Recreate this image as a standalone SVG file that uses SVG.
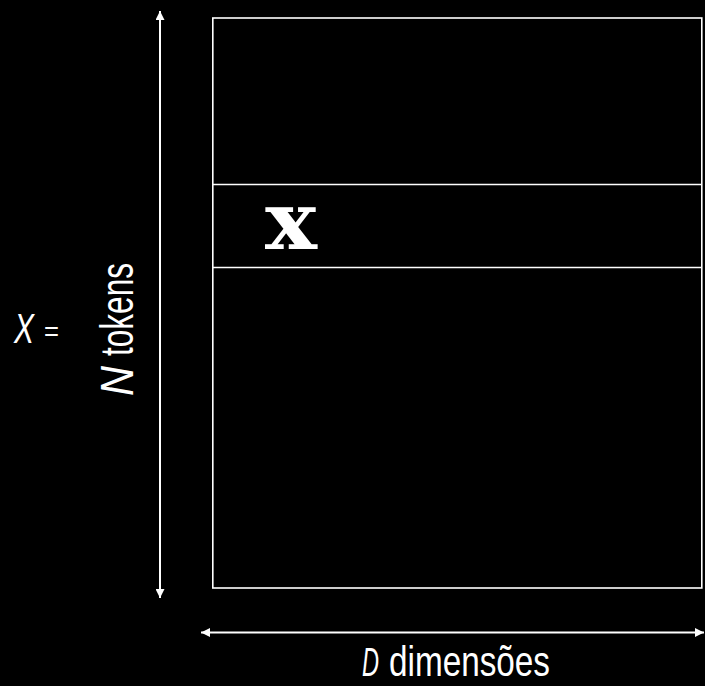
<svg xmlns="http://www.w3.org/2000/svg" width="705" height="686" viewBox="0 0 705 686">
  <defs>
    <marker id="ah" viewBox="0 0 10 10" refX="10" refY="5" markerWidth="13" markerHeight="9" markerUnits="userSpaceOnUse" orient="auto-start-reverse">
      <path d="M0,0 L10,5 L0,10 Z" fill="#fff"/>
    </marker>
    <style>
      .ln { stroke: #fff; stroke-width: 1.6; fill: none; }
      .arr { stroke: #fff; stroke-width: 2; fill: none; }
      .lbl { fill: #fff; font-family: "Liberation Sans", Arial, sans-serif; }
    </style>
  </defs>
  <rect width="705" height="686" fill="#000"/>
  <g id="matrix">
    <rect class="ln" x="212.8" y="18" width="489" height="570"/>
    <line class="ln" x1="212.8" y1="184.5" x2="701.8" y2="184.5"/>
    <line class="ln" x1="212.8" y1="267.5" x2="701.8" y2="267.5"/>
  </g>
  <g id="row-x">
    <text x="291" y="249" text-anchor="middle" fill="#fff" font-family="DejaVu Serif, serif" font-weight="bold" font-size="80" textLength="52" lengthAdjust="spacingAndGlyphs">x</text>
  </g>
  <g id="connectors">
    <line class="arr" x1="160" y1="598" x2="160" y2="11" marker-start="url(#ah)" marker-end="url(#ah)"/>
    <line class="arr" x1="201" y1="632.5" x2="704" y2="632.5" marker-start="url(#ah)" marker-end="url(#ah)"/>
  </g>
  <g id="label-X">
    <text class="lbl" x="14" y="343" font-size="43" font-style="italic" textLength="20" lengthAdjust="spacingAndGlyphs">X</text>
    <text class="lbl" x="44" y="341" font-size="28" textLength="15" lengthAdjust="spacingAndGlyphs">=</text>
  </g>
  <g id="label-N">
    <text class="lbl" transform="translate(133,396) rotate(-90)" font-size="46" font-style="italic" textLength="30" lengthAdjust="spacingAndGlyphs">N</text>
    <text class="lbl" transform="translate(133,356) rotate(-90)" font-size="47" textLength="93" lengthAdjust="spacingAndGlyphs">tokens</text>
  </g>
  <g id="label-D">
    <text class="lbl" x="362" y="676" font-size="41" font-style="italic" textLength="17" lengthAdjust="spacingAndGlyphs">D</text>
    <text class="lbl" x="389" y="676" font-size="42" textLength="161" lengthAdjust="spacingAndGlyphs">dimensões</text>
  </g>
</svg>
